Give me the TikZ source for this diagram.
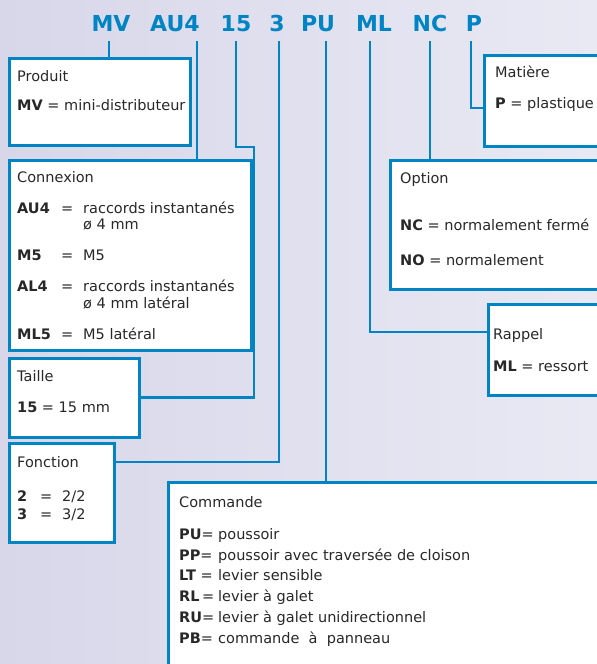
\documentclass[tikz,border=0pt]{standalone}
\usepackage{fontspec}
\setmainfont{DejaVu Sans}
\usetikzlibrary{positioning}
\usepackage{xcolor}
\definecolor{refblue}{RGB}{0,132,196}
\definecolor{inkgray}{RGB}{40,40,40}
\definecolor{bgleft}{RGB}{216,215,234}
\definecolor{bgright}{RGB}{233,233,244}

\begin{document}
\begin{tikzpicture}[
  x=1pt, y=-1pt,
  code/.style={font=\fontsize{22}{26}\selectfont\bfseries, text=refblue, inner sep=0pt, outer ysep=10pt, anchor=base},
  box/.style={draw=refblue, line width=3pt, fill=white, anchor=north west, inner sep=0pt, outer sep=0pt},
  txt/.style={font=\fontsize{14.5}{16}\selectfont, text=inkgray, anchor=base west, inner sep=0pt},
  link/.style={draw=refblue, line width=2.6pt}
]
\useasboundingbox (0,0) rectangle (597,664);
\clip (0,0) rectangle (597,664);
\shade[left color=bgleft, right color=bgright] (0,0) rectangle (597,664);

% reference code
\node[code] (mv) at (111,31) {MV};
\node[code] (au4) at (175,31) {AU4};
\node[code] (n15) at (236,31) {15};
\node[code] (n3) at (277,31) {3};
\node[code] (pu) at (318,31) {PU};
\node[code] (ml) at (374,31) {ML};
\node[code] (nc) at (430,31) {NC};
\node[code] (p) at (474,31) {P};

% boxes
\node[box, minimum width=181, minimum height=87] (produit) at (9,58) {};
\node[box, minimum width=200, minimum height=91] (matiere) at (484,55) {};
\node[box, minimum width=242, minimum height=190] (connexion) at (9,160) {};
\node[box, minimum width=250, minimum height=129] (option) at (390,160) {};
\node[box, minimum width=200, minimum height=91] (rappel) at (488,304) {};
\node[box, minimum width=130, minimum height=79] (taille) at (9,358) {};
\node[box, minimum width=105, minimum height=99] (fonction) at (9,443) {};
\node[box, minimum width=500, minimum height=250] (commande) at (168,482) {};

% connectors
\coordinate (mv-top) at ([xshift=-2pt]mv.south);
\coordinate (au4-top) at ([xshift=22pt]au4.south);
\coordinate (n3-top) at ([xshift=2pt]n3.south);
\coordinate (pu-top) at ([xshift=8pt]pu.south);
\coordinate (ml-top) at ([xshift=-4pt]ml.south);
\coordinate (p-top) at ([xshift=-3pt]p.south);
\coordinate (bend15) at (254,147);
\draw[link] (mv-top) -- (mv-top |- produit.north);
\draw[link] (au4-top) -- (au4-top |- connexion.north);
\draw[link] (n15.south) |- (bend15) |- (taille.east);
\draw[link] (n3-top) |- ([yshift=-19pt]fonction.north east);
\draw[link] (pu-top) -- (pu-top |- commande.north);
\draw[link] (ml-top) |- ([yshift=-28pt]rappel.north west);
\draw[link] (nc.south) -- (nc.south |- option.north);
\draw[link] (p-top) |- ([yshift=-53pt]matiere.north west);

% box texts
\node[txt] (produit-txt) at ([shift={(8,23)}]produit.north west)
  {\begin{tabular}[t]{@{}l@{}}Produit\\[13pt]\textbf{MV} = mini-distributeur\end{tabular}};
\node[txt] (matiere-txt) at ([shift={(11,22)}]matiere.north west)
  {\begin{tabular}[t]{@{}l@{}}Matière\\[15pt]\textbf{P} = plastique\end{tabular}};
\node[txt] (connexion-txt) at ([shift={(8,22)}]connexion.north west)
  {\begin{tabular}[t]{@{}p{44pt}@{}p{22pt}@{}l@{}}
    \multicolumn{3}{@{}l@{}}{Connexion}\\[15pt]
    \textbf{AU4} & = & raccords instantanés\\
                 &   & ø 4 mm\\[15pt]
    \textbf{M5}  & = & M5\\[15pt]
    \textbf{AL4} & = & raccords instantanés\\
                 &   & ø 4 mm latéral\\[15pt]
    \textbf{ML5} & = & M5 latéral
  \end{tabular}};
\node[txt] (option-txt) at ([shift={(10,23)}]option.north west)
  {\begin{tabular}[t]{@{}l@{}}Option\\[31pt]\textbf{NC} = normalement fermé\\[19pt]\textbf{NO} = normalement\end{tabular}};
\node[txt] (rappel-txt) at ([shift={(5,35)}]rappel.north west)
  {\begin{tabular}[t]{@{}l@{}}Rappel\\[16pt]\textbf{ML} = ressort\end{tabular}};
\node[txt] (taille-txt) at ([shift={(8,23)}]taille.north west)
  {\begin{tabular}[t]{@{}l@{}}Taille\\[15pt]\textbf{15} = 15 mm\end{tabular}};
\node[txt] (fonction-txt) at ([shift={(8,24)}]fonction.north west)
  {\begin{tabular}[t]{@{}p{23pt}@{}p{22pt}@{}l@{}}
    \multicolumn{3}{@{}l@{}}{Fonction}\\[18pt]
    \textbf{2} & = & 2/2\\[2pt]
    \textbf{3} & = & 3/2
  \end{tabular}};
\node[txt] (commande-txt) at ([shift={(11,25)}]commande.north west)
  {\begin{tabular}[t]{@{}p{39pt}@{}l@{}}
    \multicolumn{2}{@{}l@{}}{Commande}\\[16pt]
    \textbf{PU}= & poussoir\\[4.6pt]
    \textbf{PP}= & poussoir avec traversée de cloison\\[4.6pt]
    \textbf{LT} = & levier sensible\\[4.6pt]
    \textbf{RL}\,= & levier à galet\\[4.6pt]
    \textbf{RU}= & levier à galet unidirectionnel\\[4.6pt]
    \textbf{PB}= & commande~~à~~panneau
  \end{tabular}};
\end{tikzpicture}
\end{document}
